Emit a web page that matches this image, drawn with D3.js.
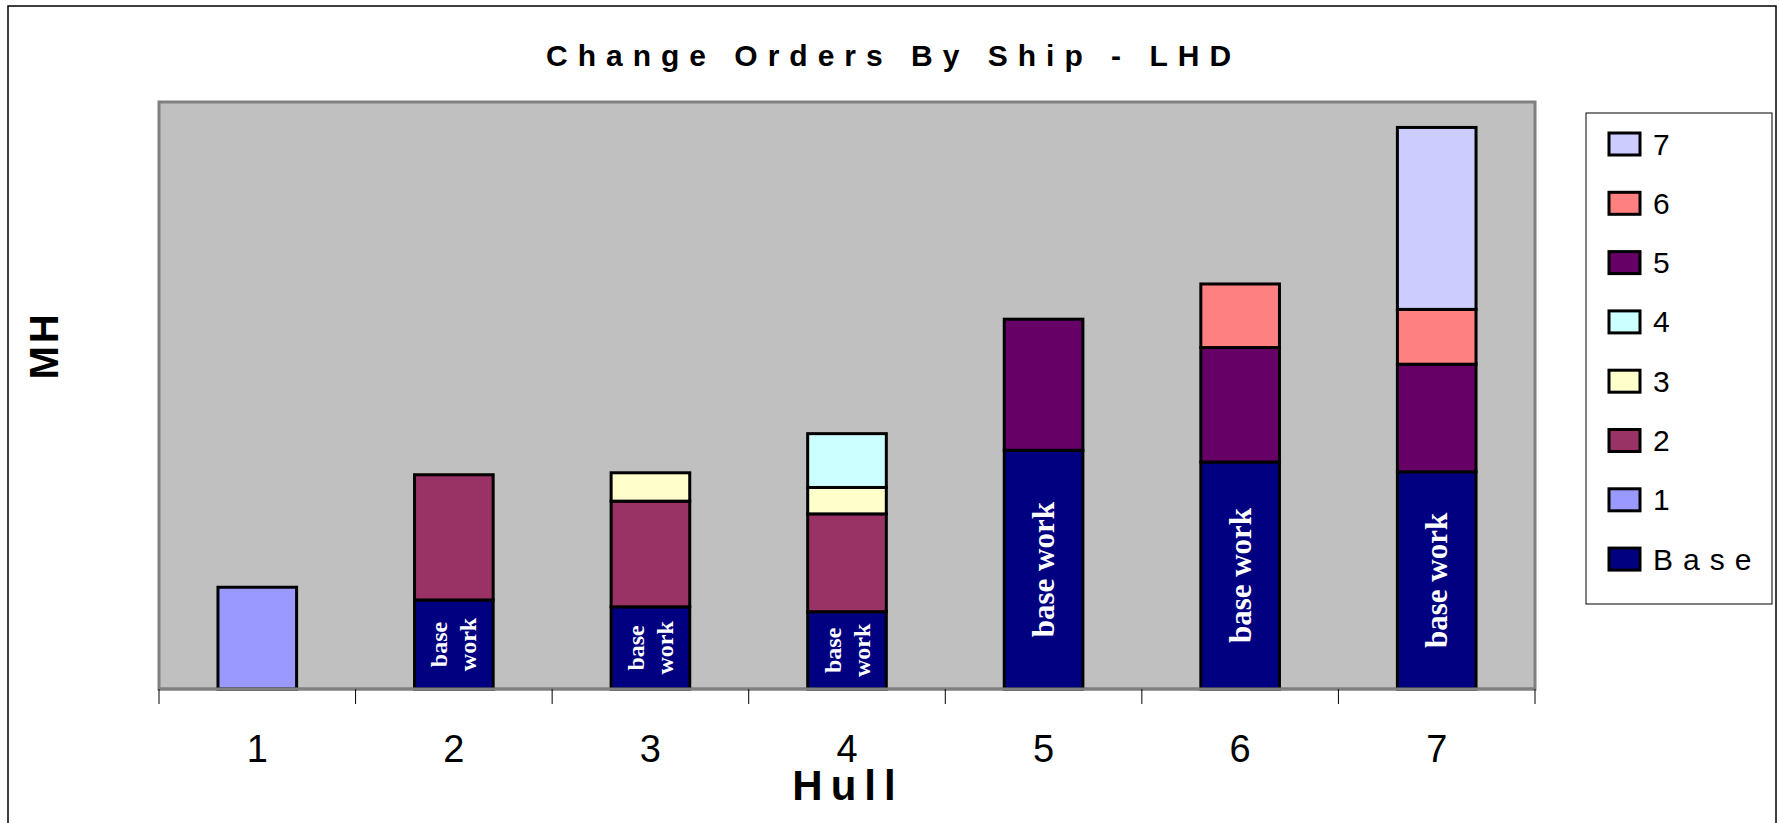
<!DOCTYPE html>
<html>
<head>
<meta charset="utf-8">
<script src="https://cdn.jsdelivr.net/npm/d3@7"></script>
<style>
  html, body { margin: 0; padding: 0; background: #fff; }
  svg { display: block; }
</style>
</head>
<body>
<svg id="chart" width="1779" height="823"></svg>
<script>
// ---- data ----
const hulls = ["1", "2", "3", "4", "5", "6", "7"];
const seriesNames = ["Base", "1", "2", "3", "4", "5", "6", "7"];
const seriesColors = ["#000080", "#9999FF", "#993366", "#FFFFCC", "#CCFFFF", "#660066", "#FF8080", "#CCCCFF"];
const baseWork = [0, 91, 84, 79, 244, 232, 222];
const co1 = [104, 0, 0, 0, 0, 0, 0];
const co2 = [0, 128, 108, 100, 0, 0, 0];
const co3 = [0, 0, 29, 27, 0, 0, 0];
const co4 = [0, 0, 0, 55, 0, 0, 0];
const co5 = [0, 0, 0, 0, 134, 117, 110];
const co6 = [0, 0, 0, 0, 0, 65, 56];
const co7 = [0, 0, 0, 0, 0, 0, 186];
const yMax = 600;
const titleText = "Change Orders By Ship - LHD";
const xTitle = "Hull";
const yTitle = "MH";
const baseLabel = ["base", "work"];

// ---- build table ----
const seriesData = [baseWork, co1, co2, co3, co4, co5, co6, co7];
const table = hulls.map((h, i) => {
  const row = { hull: h };
  seriesNames.forEach((s, j) => row[s] = seriesData[j][i]);
  return row;
});

const svg = d3.select("#chart");
const plot = { left: 159, right: 1535, top: 102, bottom: 689 };

// chart border
svg.append("rect").attr("x", 8).attr("y", 6).attr("width", 1768).attr("height", 840)
  .attr("fill", "#fff").attr("stroke", "#000").attr("stroke-width", 1.5);

// plot area
svg.append("rect").attr("x", plot.left).attr("y", plot.top)
  .attr("width", plot.right - plot.left).attr("height", plot.bottom - plot.top)
  .attr("fill", "#C0C0C0").attr("stroke", "#808080").attr("stroke-width", 3);

const x = d3.scaleBand().domain(hulls).range([plot.left, plot.right]).paddingInner(0).paddingOuter(0);
const y = d3.scaleLinear().domain([0, yMax]).range([plot.bottom, plot.top]);
const barW = x.bandwidth() * 0.4;

const stack = d3.stack().keys(seriesNames);
const stacked = stack(table);

const g = svg.append("g");
stacked.forEach((layer, si) => {
  g.selectAll(null).data(layer.filter(d => d[1] - d[0] > 0)).enter()
    .append("rect")
    .attr("x", d => x(d.data.hull) + (x.bandwidth() - barW) / 2)
    .attr("y", d => y(d[1]))
    .attr("width", barW)
    .attr("height", d => y(d[0]) - y(d[1]))
    .attr("fill", seriesColors[si])
    .attr("stroke", "#000").attr("stroke-width", 3);
});

// base work labels
stacked[0].filter(d => d[1] - d[0] > 0).forEach(d => {
  const cx = x(d.data.hull) + x.bandwidth() / 2;
  const cy = (y(d[0]) + y(d[1])) / 2;
  const h = y(d[0]) - y(d[1]);
  const t = svg.append("g").attr("transform", `translate(${cx},${cy}) rotate(-90)`);
  if (h < 150) {
    baseLabel.forEach((w, k) => {
      t.append("text").attr("x", 0).attr("y", (k - 0.5) * 29)
        .attr("text-anchor", "middle").attr("dominant-baseline", "central")
        .attr("font-family", "Liberation Serif, Times New Roman, serif")
        .attr("font-weight", "bold").attr("font-size", 24).attr("fill", "#fff")
        .text(w);
    });
  } else {
    t.append("text").attr("x", 0).attr("y", 0)
      .attr("text-anchor", "middle").attr("dominant-baseline", "central")
      .attr("font-family", "Liberation Serif, Times New Roman, serif")
      .attr("font-weight", "bold").attr("font-size", 31).attr("fill", "#fff")
      .text(baseLabel.join(" "));
  }
});

// x axis line
svg.append("line").attr("x1", plot.left).attr("x2", plot.right)
  .attr("y1", plot.bottom).attr("y2", plot.bottom)
  .attr("stroke", "#808080").attr("stroke-width", 3);

// ticks at band boundaries
const bounds = hulls.map(h => x(h)).concat([plot.right]);
svg.selectAll(null).data(bounds).enter().append("line")
  .attr("x1", d => d).attr("x2", d => d)
  .attr("y1", plot.bottom).attr("y2", plot.bottom + 15)
  .attr("stroke", "#000").attr("stroke-width", 1);

// tick labels
svg.selectAll(null).data(hulls).enter().append("text")
  .attr("x", d => x(d) + x.bandwidth() / 2)
  .attr("y", 762)
  .attr("text-anchor", "middle")
  .attr("font-family", "Liberation Sans, Arial, sans-serif")
  .attr("font-size", 38).attr("fill", "#000")
  .text(d => d);

// title
svg.append("text").attr("x", 546).attr("y", 66)
  .attr("text-anchor", "start")
  .attr("font-family", "Liberation Sans, Arial, sans-serif")
  .attr("font-weight", "bold").attr("font-size", 30)
  .attr("letter-spacing", 10)
  .text(titleText);

// x title
svg.append("text").attr("x", (plot.left + plot.right) / 2 - 3).attr("y", 800)
  .attr("text-anchor", "middle")
  .attr("font-family", "Liberation Sans, Arial, sans-serif")
  .attr("font-weight", "bold").attr("font-size", 42)
  .attr("letter-spacing", 8).attr("dx", 4)
  .text(xTitle);

// y title
svg.append("text").attr("transform", "translate(58,347) rotate(-90)")
  .attr("text-anchor", "middle")
  .attr("font-family", "Liberation Sans, Arial, sans-serif")
  .attr("font-weight", "bold").attr("font-size", 40)
  .attr("letter-spacing", 3).attr("dx", 1.5)
  .text(yTitle);

// legend
svg.append("rect").attr("x", 1586).attr("y", 113).attr("width", 186).attr("height", 491)
  .attr("fill", "#fff").attr("stroke", "#000").attr("stroke-width", 1);
const legendOrder = seriesNames.slice().reverse();
const lg = svg.selectAll(null).data(legendOrder).enter().append("g")
  .attr("transform", (d, i) => `translate(1609,${144 + i * 59.3})`);
lg.append("rect").attr("x", 0).attr("y", -11).attr("width", 31).attr("height", 22)
  .attr("fill", d => seriesColors[seriesNames.indexOf(d)])
  .attr("stroke", "#000").attr("stroke-width", 3);
lg.append("text").attr("x", 44).attr("y", 0)
  .attr("dominant-baseline", "central")
  .attr("font-family", "Liberation Sans, Arial, sans-serif")
  .attr("font-size", 30).attr("letter-spacing", 10)
  .text(d => d);
</script>
</body>
</html>
